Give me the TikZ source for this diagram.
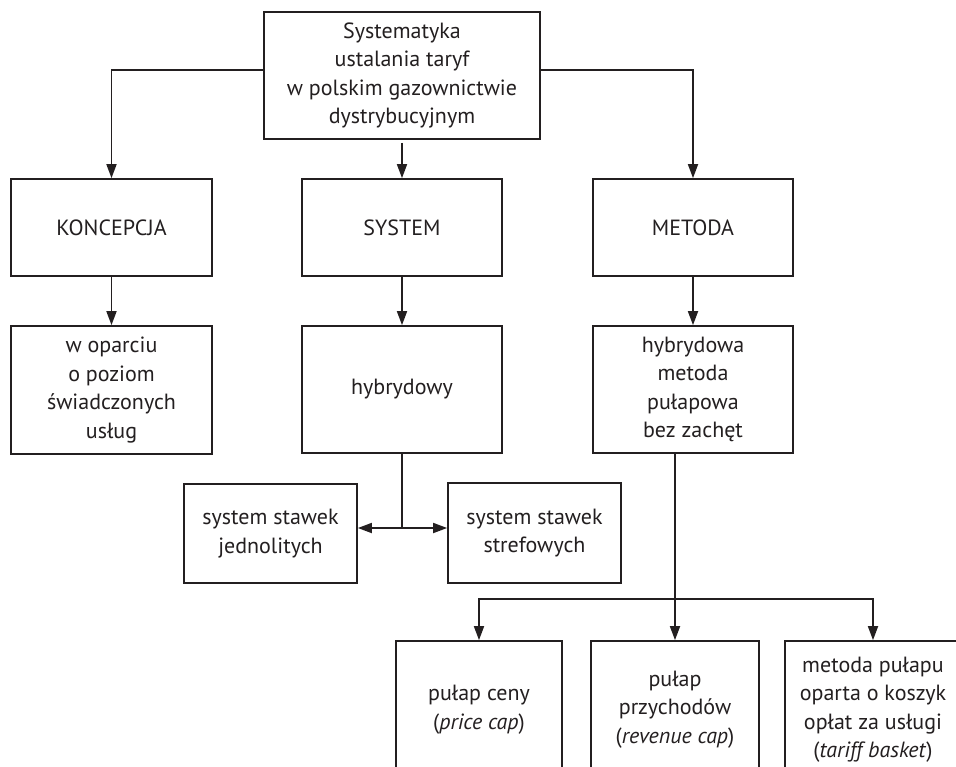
\documentclass[tikz,border=0pt]{standalone}
\usepackage{fontspec}
\setmainfont{PT Sans}
\usetikzlibrary{arrows.meta}
\definecolor{ink}{HTML}{231F20}
\begin{document}
\begin{tikzpicture}[x=1pt,y=-1pt,
  line width=1.7pt,
  every node/.style={font=\fontsize{22}{28.5}\selectfont, text=ink},
  box/.style={draw=ink, rectangle, inner sep=0pt, align=center},
  arr/.style={draw=ink, -{Triangle[length=14pt,width=10pt]}},
  dbl/.style={draw=ink, {Triangle[length=14pt,width=10pt]}-{Triangle[length=14pt,width=10pt]}},
  conn/.style={draw=ink}]
\clip (0,0) rectangle (956,766);
\fill[white] (0,0) rectangle (956,766);

% root
\node[box, minimum width=276pt, minimum height=127pt] (root) at (402,75.5)
  {Systematyka\\ustalania taryf\\w polskim gazownictwie\\dystrybucyjnym};

% second level
\node[box, minimum width=201pt, minimum height=97pt] (konc) at (111.5,227.5) {KONCEPCJA};
\node[box, minimum width=200pt, minimum height=97pt] (sys) at (402,227.5) {SYSTEM};
\node[box, minimum width=200pt, minimum height=97pt] (met) at (693,227.5) {METODA};

% third level
\node[box, minimum width=201pt, minimum height=128pt] (oparciu) at (111.5,390)
  {w oparciu\\o poziom\\świadczonych\\usług};
\node[box, minimum width=200pt, minimum height=127pt] (hyb) at (402,389.5) {hybrydowy};
\node[box, minimum width=200pt, minimum height=127pt] (hybmet) at (693,389.5)
  {hybrydowa\\metoda\\pułapowa\\bez zachęt};

% rate systems
\node[box, minimum width=173pt, minimum height=99pt] (jedn) at (270.5,533.5)
  {system stawek\\jednolitych};
\node[box, minimum width=173pt, minimum height=100pt] (stref) at (534.5,533)
  {system stawek\\strefowych};

% cap variants
\node[box, minimum width=166pt, minimum height=137pt] (price) at (479,709.5)
  {pułap ceny\\(\textit{price cap})};
\node[box, minimum width=168pt, minimum height=137pt] (revenue) at (675,709.5)
  {pułap\\przychodów\\(\textit{revenue cap})};
\node[box, minimum width=176pt, minimum height=137pt] (basket) at (873,709.5)
  {metoda pułapu\\oparta o koszyk\\opłat za usługi\\(\textit{tariff basket})};

% connectors from root
\draw[arr] ([yshift=5.5pt]root.west) -| (konc.north);
\draw[arr] ([yshift=5.5pt]root.east) -| (met.north);
\draw[arr] ([yshift=-3pt]root.south) -- (sys.north);

% second to third level
\draw[arr] (konc.south) -- (oparciu.north);
\draw[arr] (sys.south) -- (hyb.north);
\draw[arr] (met.south) -- (hybmet.north);

% hybrid system branches
\coordinate (hub) at (402,528);
\draw[conn] (hyb.south) -- (hub);
\draw[dbl] (jedn.east |- hub) -- (stref.west |- hub);

% method branches
\coordinate (fork) at (675,599);
\draw[arr] (revenue.north |- hybmet.south) -- (revenue.north);
\draw[arr] (fork) -| (price.north);
\draw[arr] (fork) -| (basket.north);
\end{tikzpicture}
\end{document}
